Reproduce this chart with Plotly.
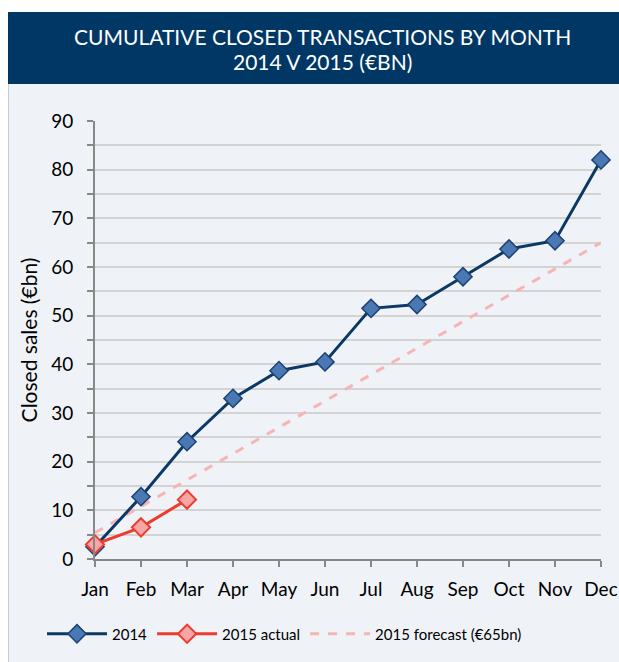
import plotly.graph_objects as go

months = ["Jan", "Feb", "Mar", "Apr", "May", "Jun", "Jul", "Aug", "Sep", "Oct", "Nov", "Dec"]
sales_2014 = [2.5, 12.8, 24.1, 33.0, 38.7, 40.5, 51.5, 52.3, 58.0, 63.7, 65.4, 82.0]
months_2015 = ["Jan", "Feb", "Mar"]
sales_2015 = [3.0, 6.5, 12.2]
forecast_2015 = [5.4, 10.8, 16.3, 21.7, 27.1, 32.5, 37.9, 43.3, 48.8, 54.2, 59.6, 65.0]
y_ticks = [0, 10, 20, 30, 40, 50, 60, 70, 80, 90]

FONT = "Lato, 'Noto Sans', sans-serif"
W, H = 619, 662
L, T = 95, 121
R = W - 601
B = H - 559
PW = W - L - R
PH = H - T - B

def px(x):
    # screen pixel -> paper coordinate
    return (x - L) / PW

def py(y):
    return (H - B - y) / PH

fig = go.Figure()
fig.add_trace(go.Scatter(
    x=months, y=forecast_2015, name="2015 forecast (€65bn)", mode="lines",
    line=dict(color="#f7b4b4", width=3, dash="dash"),
    cliponaxis=False, legendrank=3,
))
fig.add_trace(go.Scatter(
    x=months, y=sales_2014, name="2014", mode="lines+markers",
    line=dict(color="#0c3866", width=3),
    marker=dict(symbol="diamond", size=14, color="#4a78b5", line=dict(color="#1d4273", width=1.5)),
    cliponaxis=False, legendrank=1,
))
fig.add_trace(go.Scatter(
    x=months_2015, y=sales_2015, name="2015 actual", mode="lines+markers",
    line=dict(color="#ee3b2e", width=3),
    marker=dict(symbol="diamond", size=14, color="#f6a6a6", line=dict(color="#ee3b2e", width=2)),
    cliponaxis=False, legendrank=2,
))

shapes = [
    dict(type="rect", xref="paper", yref="paper", x0=px(0), x1=px(619), y0=py(12), y1=py(0),
         fillcolor="white", line_width=0, layer="below"),
    dict(type="rect", xref="paper", yref="paper", x0=px(0), x1=px(8), y0=py(662), y1=py(0),
         fillcolor="white", line_width=0, layer="below"),
    dict(type="line", xref="paper", yref="paper", x0=px(8.5), x1=px(8.5), y0=py(662), y1=py(84),
         line=dict(color="#c8ccd0", width=1), layer="below"),
    dict(type="rect", xref="paper", yref="paper", x0=px(8), x1=px(619), y0=py(84), y1=py(12),
         fillcolor="#003764", line_width=0, layer="below"),
]

annotations = [
    dict(text="CUMULATIVE CLOSED TRANSACTIONS BY MONTH", xref="paper", yref="paper",
         x=px(322), y=py(36), yanchor="middle", xanchor="center", showarrow=False,
         font=dict(family=FONT, size=21, color="white")),
    dict(text="2014 V 2015 (€BN)", xref="paper", yref="paper",
         x=px(322), y=py(62), yanchor="middle", xanchor="center", showarrow=False,
         font=dict(family=FONT, size=21, color="white")),
]

fig.update_layout(
    width=W, height=H,
    margin=dict(l=L, r=R, t=T, b=B, autoexpand=False),
    paper_bgcolor="#eff3f7", plot_bgcolor="#eff3f7",
    font=dict(family=FONT, size=17, color="black"),
    shapes=shapes, annotations=annotations,
    showlegend=True,
    legend=dict(orientation="h", x=px(42), y=py(634), xanchor="left", yanchor="middle",
                font=dict(family=FONT, size=15, color="black"), itemwidth=60,
                bgcolor="rgba(0,0,0,0)"),
)
fig.update_xaxes(
    type="category", categoryorder="array", categoryarray=months, range=[0, 11],
    showline=True, linecolor="#888888", linewidth=2,
    ticks="outside", ticklen=6, tickcolor="#888888", tickwidth=2,
    showgrid=False, zeroline=False, tickfont=dict(size=19), ticklabelstandoff=6,
)
fig.update_yaxes(
    range=[0, 90], tickvals=y_ticks, ticktext=[str(v) for v in y_ticks],
    showline=True, linecolor="#888888", linewidth=2,
    ticks="outside", ticklen=6, tickcolor="#888888", tickwidth=2,
    showgrid=True, gridcolor="#d3d3d3", gridwidth=1.5, zeroline=False,
    minor=dict(dtick=5, showgrid=True, gridcolor="#d3d3d3", gridwidth=1.5,
               ticks="outside", ticklen=6, tickcolor="#888888"),
    tickfont=dict(size=19), ticklabelstandoff=10,
    title=dict(text="Closed sales (€bn)", font=dict(size=21), standoff=8),
)
fig.write_html(
    "out.html",
    config={"displayModeBar": False},
    post_script="document.body.style.margin='0';document.body.style.overflow='hidden';",
)
